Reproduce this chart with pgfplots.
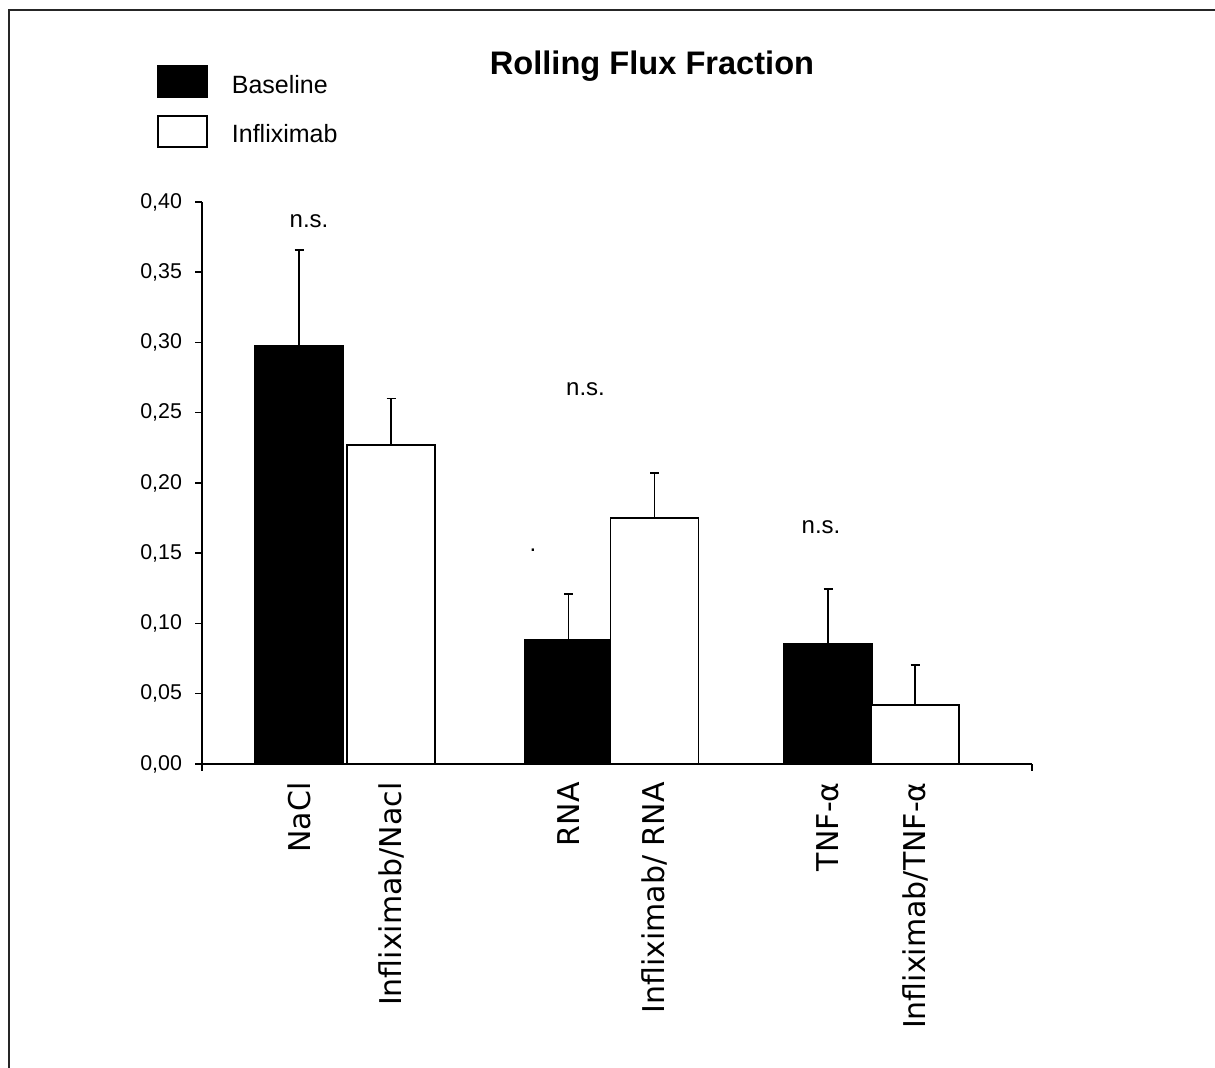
\documentclass[border=0pt]{standalone}
\usepackage{fontspec}
\setmainfont{Liberation Sans}
\newfontfamily\xlab{DejaVu Sans}
\usepackage{pgfplots}
\pgfplotsset{compat=1.18}
\begin{document}
\begin{tikzpicture}
\path[use as bounding box] (0,0) rectangle (607.5pt,534pt);
\draw[line width=1pt, black!85] (4.5pt,0) -- (4.5pt,529pt) -- (607.5pt,529pt);
\begin{axis}[
  at={(101pt,152pt)}, anchor=south west,
  scale only axis, width=415pt, height=281pt,
  xmin=202, xmax=1032, ymin=0, ymax=0.4,
  enlargelimits=false, clip=false,
  axis lines*=left,
  axis line style={line width=0.75pt},
  every tick/.style={black, line width=0.75pt},
  tick align=outside, major tick length=3.5pt,
  ytick={0,0.05,0.1,0.15,0.2,0.25,0.3,0.35,0.4},
  yticklabel style={/pgf/number format/fixed, /pgf/number format/fixed zerofill, /pgf/number format/precision=2, /pgf/number format/use comma, /pgf/number format/assume math mode=true, font=\fontsize{10.7}{12}\selectfont},
  yticklabel shift=3pt,
  xtick={202,1032}, xticklabels={,},
  extra x ticks={299,391,568.5,654.5,828,915},
  extra x tick labels={NaCl, Infliximab/Nacl, RNA, Infliximab/ RNA, TNF-α, Infliximab/TNF-α},
  extra x tick style={major tick length=0pt, xticklabel style={rotate=90, anchor=east, font=\xlab\fontsize{15}{18}\selectfont, inner sep=0pt}, xticklabel shift=9pt},
  ybar, bar width=88,
  error bars/y dir=plus, error bars/y explicit,
  error bars/error bar style={line width=0.75pt, black},
  error bars/error mark options={rotate=90, mark size=2.25pt, line width=0.75pt, black},
  legend image code/.code={\draw[#1] (0pt,-7.75pt) rectangle (24.5pt,7.75pt);},
  legend style={at={(axis description cs:0,1)}, anchor=north west, xshift=-22.5pt, yshift=68.5pt,
    draw=none, fill=none, inner sep=0pt, row sep=7.5pt,
    font=\fontsize{12.5}{15}\selectfont, legend cell align=left,
    nodes={yshift=-2pt},
    /tikz/every odd column/.append style={column sep=10pt}},
]
\addplot[fill=black, draw=black, line width=0.75pt, bar shift=0pt] table[x=x, y=y, y error=e] {
x y e
299 0.2977 0.0683
568.5 0.0883 0.0327
828 0.0859 0.0386
};
\addlegendentry{Baseline}
\addplot[fill=white, draw=black, line width=0.75pt, bar shift=0pt] table[x=x, y=y, y error=e] {
x y e
391 0.227 0.033
654.5 0.175 0.032
915 0.042 0.0285
};
\addlegendentry{Infliximab}
\node[anchor=base, font=\fontsize{12}{14}\selectfont] at (axis cs:309,0.3815) {n.s.};
\node[anchor=base, font=\fontsize{12}{14}\selectfont] at (axis cs:585.5,0.262) {n.s.};
\node[anchor=base, font=\fontsize{12}{14}\selectfont] at (axis cs:821,0.1637) {n.s.};
\node[anchor=base, font=\fontsize{12}{14}\selectfont] at (axis cs:533,0.151) {.};
\end{axis}
\node[anchor=base, font=\bfseries\fontsize{16.3}{19}\selectfont] at (326pt,496.5pt) {Rolling Flux Fraction};
\end{tikzpicture}
\end{document}
